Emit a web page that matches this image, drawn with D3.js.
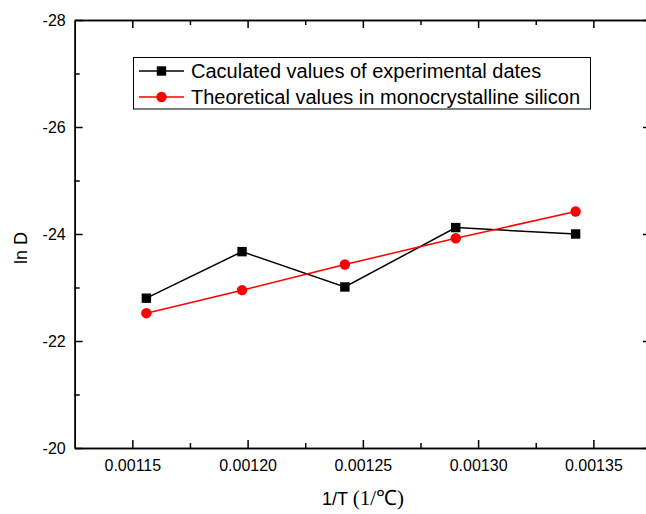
<!DOCTYPE html>
<html>
<head>
<meta charset="utf-8">
<script src="https://cdn.jsdelivr.net/npm/d3@7"></script>
<style>
  html, body { margin: 0; padding: 0; background: #fff; }
  svg { display: block; font-family: "Liberation Sans", Arial, sans-serif; }
  .axis path, .axis line { stroke: #000; stroke-width: 1.5; }
  .axis text { font-size: 16px; fill: #000; }
</style>
</head>
<body>
<div id="chart"></div>
<script>
// Daten
const invT = [0.0011561, 0.0011976, 0.0012422, 0.0012903, 0.0013423];
const lnDExp = [-22.80, -23.67, -23.01, -24.12, -24.00];
const lnDTheo = [-22.52, -22.95, -23.43, -23.92, -24.42];
const xTicks = [0.00115, 0.00120, 0.00125, 0.00130, 0.00135];
const xMinor = [0.001175, 0.001225, 0.001275, 0.001325];
const yTicks = [-28, -26, -24, -22, -20];
const yMinor = [-27, -25, -23, -21];
const legendLabels = [
  "Caculated values of experimental dates",
  "Theoretical values in monocrystalline silicon"
];

const W = 646, H = 514;
const M = { left: 74.7, top: 20 };

const svg = d3.select("#chart").append("svg")
  .attr("width", W).attr("height", H);

const x = d3.scaleLinear().domain([0.001125, 0.001375]).range([M.left, 651]);
const y = d3.scaleLinear().domain([-28, -20]).range([M.top, 448]);

const fmtX = d3.format(".5f");
const fmtY = d => String(d); // normaler Bindestrich statt Unicode-Minus

// Achsen (Ticks nach innen)
svg.append("g").attr("class", "axis")
  .attr("transform", `translate(0,${y(-20)})`)
  .call(d3.axisBottom(x).tickValues(xTicks).tickFormat(fmtX).tickSize(-8).tickSizeOuter(0).tickPadding(12));
svg.append("g").attr("class", "axis")
  .attr("transform", `translate(0,${y(-20)})`)
  .call(d3.axisBottom(x).tickValues(xMinor).tickFormat("").tickSize(-5).tickSizeOuter(0));
svg.append("g").attr("class", "axis")
  .attr("transform", `translate(0,${y(-28)})`)
  .call(d3.axisTop(x).tickValues(xTicks).tickFormat("").tickSize(-8).tickSizeOuter(0));
svg.append("g").attr("class", "axis")
  .attr("transform", `translate(0,${y(-28)})`)
  .call(d3.axisTop(x).tickValues(xMinor).tickFormat("").tickSize(-5).tickSizeOuter(0));

svg.append("g").attr("class", "axis")
  .attr("transform", `translate(${x(0.001125)},0)`)
  .call(d3.axisLeft(y).tickValues(yTicks).tickFormat(fmtY).tickSize(-8).tickSizeOuter(0).tickPadding(9));
svg.append("g").attr("class", "axis")
  .attr("transform", `translate(${x(0.001125)},0)`)
  .call(d3.axisLeft(y).tickValues(yMinor).tickFormat("").tickSize(-5).tickSizeOuter(0));
svg.append("g").attr("class", "axis")
  .attr("transform", `translate(${x(0.001375)},0)`)
  .call(d3.axisRight(y).tickValues(yTicks).tickFormat("").tickSize(-8).tickSizeOuter(0));
svg.append("g").attr("class", "axis")
  .attr("transform", `translate(${x(0.001375)},0)`)
  .call(d3.axisRight(y).tickValues(yMinor).tickFormat("").tickSize(-5).tickSizeOuter(0));

// Achsentitel
svg.append("text")
  .attr("transform", "translate(27,248) rotate(-90)")
  .attr("text-anchor", "middle")
  .attr("font-size", 18)
  .text("ln D");

const xt = svg.append("text")
  .attr("x", 363).attr("y", 505)
  .attr("text-anchor", "middle")
  .attr("font-size", 18);
xt.append("tspan").text("1/T ");
xt.append("tspan").attr("font-family", "'Liberation Serif', 'Times New Roman', serif")
  .attr("font-size", 21).text("(1/\u2103)");

// Linien + Marker
const line = d3.line().x((d, i) => x(invT[i])).y(d => y(d));

svg.append("path").datum(lnDExp)
  .attr("d", line).attr("fill", "none").attr("stroke", "#000").attr("stroke-width", 1.5);
svg.append("path").datum(lnDTheo)
  .attr("d", line).attr("fill", "none").attr("stroke", "#ff0000").attr("stroke-width", 1.5);

svg.selectAll("rect.pt").data(lnDExp).enter().append("rect")
  .attr("class", "pt")
  .attr("x", (d, i) => x(invT[i]) - 4.7)
  .attr("y", d => y(d) - 4.7)
  .attr("width", 9.4).attr("height", 9.4)
  .attr("fill", "#000");
svg.selectAll("circle.pt").data(lnDTheo).enter().append("circle")
  .attr("class", "pt")
  .attr("cx", (d, i) => x(invT[i]))
  .attr("cy", d => y(d))
  .attr("r", 5.2)
  .attr("fill", "#ff0000");

// Legende
const lg = svg.append("g");
lg.append("rect")
  .attr("x", 133.5).attr("y", 57.5).attr("width", 457).attr("height", 51.5)
  .attr("fill", "#fff").attr("stroke", "#000").attr("stroke-width", 1);
const lgRows = [
  { y: 71, color: "#000", shape: "square" },
  { y: 97, color: "#ff0000", shape: "circle" }
];
lgRows.forEach((r, i) => {
  lg.append("line").attr("x1", 139).attr("x2", 184).attr("y1", r.y).attr("y2", r.y)
    .attr("stroke", r.color).attr("stroke-width", 1.5);
  if (r.shape === "square") {
    lg.append("rect").attr("x", 161.5 - 4.7).attr("y", r.y - 4.7)
      .attr("width", 9.4).attr("height", 9.4).attr("fill", r.color);
  } else {
    lg.append("circle").attr("cx", 161.5).attr("cy", r.y).attr("r", 5.2).attr("fill", r.color);
  }
  lg.append("text").attr("x", 191).attr("y", r.y).attr("dy", "0.36em")
    .attr("font-size", 20).text(legendLabels[i]);
});
</script>
</body>
</html>
